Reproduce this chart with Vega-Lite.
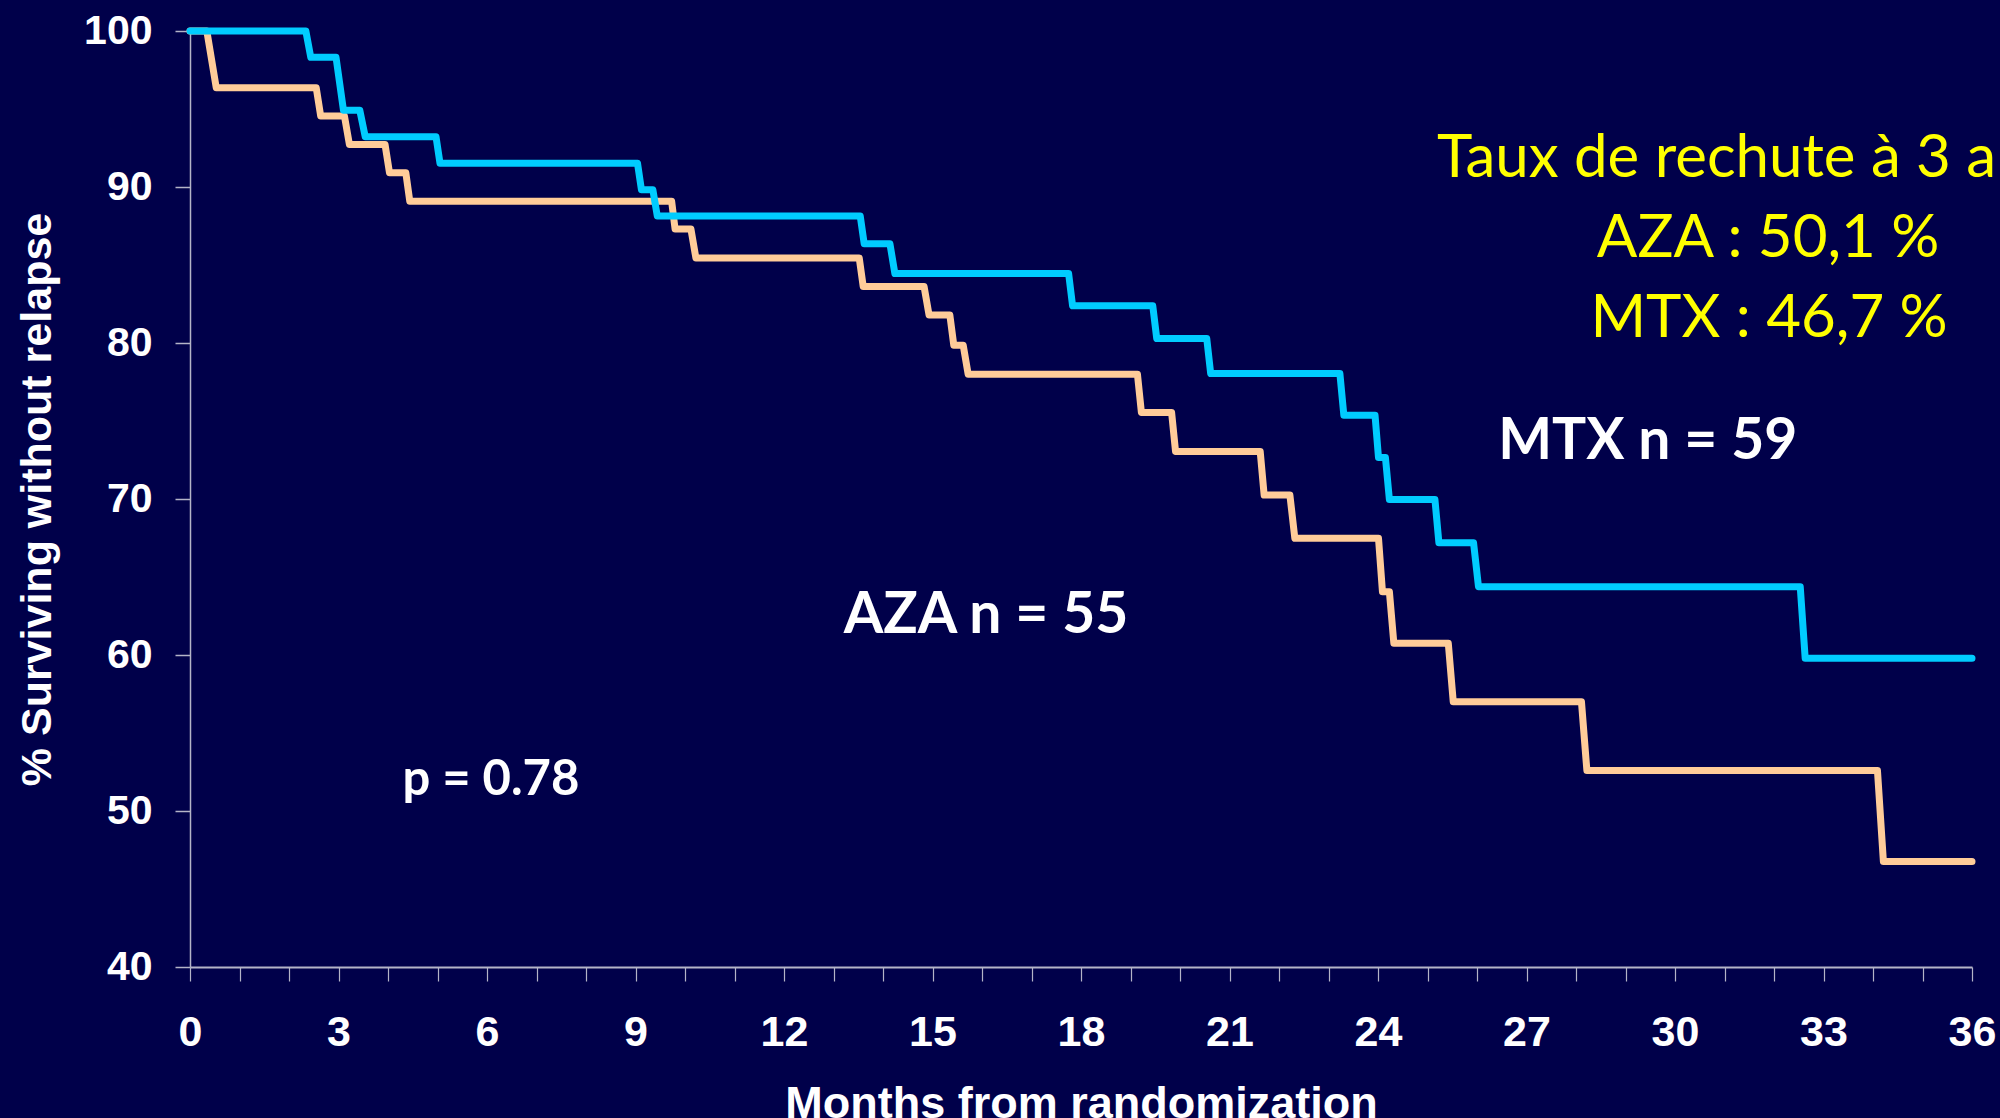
{
  "$schema": "https://vega.github.io/schema/vega-lite/v6.json",
  "autosize": {"type": "none"},
  "width": 1782,
  "height": 936,
  "padding": {"left": 190, "top": 31, "right": 28, "bottom": 151},
  "background": "#00004A",
  "config": {"view": {"stroke": null}},
  "encoding": {
    "x": {
      "field": "month",
      "type": "quantitative",
      "scale": {"domain": [0, 36], "nice": false, "zero": false},
      "axis": {
        "title": "Months from randomization",
        "values": [0,1,2,3,4,5,6,7,8,9,10,11,12,13,14,15,16,17,18,19,20,21,22,23,24,25,26,27,28,29,30,31,32,33,34,35,36],
        "labelExpr": "datum.value % 3 === 0 ? datum.label : ''",
        "labelOverlap": false,
        "labelFlush": false,
        "labelBound": false,
        "grid": false,
        "domainColor": "#B4B4C8",
        "domainWidth": 2,
        "tickColor": "#B4B4C8",
        "tickWidth": 1.2,
        "tickSize": 14,
        "labelFont": "Liberation Sans",
        "labelFontWeight": "bold",
        "labelFontSize": 43,
        "labelColor": "#FFFFFF",
        "labelPadding": 30,
        "titleFont": "Liberation Sans",
        "titleFontWeight": "bold",
        "titleFontSize": 45,
        "titleColor": "#FFFFFF",
        "titleX": 891,
        "titleY": 150,
        "titleAlign": "center",
        "titleBaseline": "alphabetic"
      }
    },
    "y": {
      "field": "pct",
      "type": "quantitative",
      "scale": {"domain": [40, 100], "nice": false, "zero": false},
      "axis": {
        "title": "% Surviving without relapse",
        "values": [40, 50, 60, 70, 80, 90, 100],
        "labelFlush": false,
        "labelOverlap": false,
        "grid": false,
        "domainColor": "#B4B4C8",
        "domainWidth": 1.5,
        "tickColor": "#B4B4C8",
        "tickWidth": 1.5,
        "tickSize": 15,
        "labelFont": "Liberation Sans",
        "labelFontWeight": "bold",
        "labelFontSize": 41,
        "labelColor": "#FFFFFF",
        "labelPadding": 23,
        "titleFont": "Liberation Sans",
        "titleFontWeight": "bold",
        "titleFontSize": 43,
        "titleColor": "#FFFFFF",
        "titleAngle": 270,
        "titleX": -140,
        "titleY": 468,
        "titleAlign": "center",
        "titleBaseline": "alphabetic"
      }
    }
  },
  "layer": [
    {
      "data": {
        "values": [
          {"arm": "AZA", "month": 0, "pct": 100},
          {"arm": "AZA", "month": 0.34, "pct": 100},
          {"arm": "AZA", "month": 0.53, "pct": 96.36},
          {"arm": "AZA", "month": 2.55, "pct": 96.36},
          {"arm": "AZA", "month": 2.64, "pct": 94.55},
          {"arm": "AZA", "month": 3.12, "pct": 94.55},
          {"arm": "AZA", "month": 3.22, "pct": 92.73},
          {"arm": "AZA", "month": 3.94, "pct": 92.73},
          {"arm": "AZA", "month": 4.03, "pct": 90.91},
          {"arm": "AZA", "month": 4.36, "pct": 90.91},
          {"arm": "AZA", "month": 4.44, "pct": 89.09},
          {"arm": "AZA", "month": 9.73, "pct": 89.09},
          {"arm": "AZA", "month": 9.8, "pct": 87.3},
          {"arm": "AZA", "month": 10.12, "pct": 87.3},
          {"arm": "AZA", "month": 10.22, "pct": 85.45},
          {"arm": "AZA", "month": 13.52, "pct": 85.45},
          {"arm": "AZA", "month": 13.6, "pct": 83.62},
          {"arm": "AZA", "month": 14.83, "pct": 83.62},
          {"arm": "AZA", "month": 14.93, "pct": 81.8},
          {"arm": "AZA", "month": 15.35, "pct": 81.8},
          {"arm": "AZA", "month": 15.43, "pct": 79.86},
          {"arm": "AZA", "month": 15.62, "pct": 79.86},
          {"arm": "AZA", "month": 15.72, "pct": 78.0},
          {"arm": "AZA", "month": 19.14, "pct": 78.0},
          {"arm": "AZA", "month": 19.22, "pct": 75.55},
          {"arm": "AZA", "month": 19.83, "pct": 75.55},
          {"arm": "AZA", "month": 19.91, "pct": 73.05},
          {"arm": "AZA", "month": 21.62, "pct": 73.05},
          {"arm": "AZA", "month": 21.7, "pct": 70.25},
          {"arm": "AZA", "month": 22.22, "pct": 70.25},
          {"arm": "AZA", "month": 22.32, "pct": 67.48},
          {"arm": "AZA", "month": 24.01, "pct": 67.48},
          {"arm": "AZA", "month": 24.09, "pct": 64.06},
          {"arm": "AZA", "month": 24.23, "pct": 64.06},
          {"arm": "AZA", "month": 24.32, "pct": 60.75},
          {"arm": "AZA", "month": 25.42, "pct": 60.75},
          {"arm": "AZA", "month": 25.52, "pct": 57.01},
          {"arm": "AZA", "month": 28.11, "pct": 57.01},
          {"arm": "AZA", "month": 28.22, "pct": 52.59},
          {"arm": "AZA", "month": 34.09, "pct": 52.59},
          {"arm": "AZA", "month": 34.21, "pct": 46.76},
          {"arm": "AZA", "month": 36, "pct": 46.76},
          {"arm": "MTX", "month": 0, "pct": 100},
          {"arm": "MTX", "month": 2.34, "pct": 100},
          {"arm": "MTX", "month": 2.44, "pct": 98.31},
          {"arm": "MTX", "month": 2.95, "pct": 98.31},
          {"arm": "MTX", "month": 3.1, "pct": 94.92},
          {"arm": "MTX", "month": 3.43, "pct": 94.92},
          {"arm": "MTX", "month": 3.54, "pct": 93.22},
          {"arm": "MTX", "month": 4.97, "pct": 93.22},
          {"arm": "MTX", "month": 5.05, "pct": 91.53},
          {"arm": "MTX", "month": 9.04, "pct": 91.53},
          {"arm": "MTX", "month": 9.12, "pct": 89.83},
          {"arm": "MTX", "month": 9.35, "pct": 89.83},
          {"arm": "MTX", "month": 9.44, "pct": 88.14},
          {"arm": "MTX", "month": 13.54, "pct": 88.14},
          {"arm": "MTX", "month": 13.62, "pct": 86.36},
          {"arm": "MTX", "month": 14.14, "pct": 86.36},
          {"arm": "MTX", "month": 14.24, "pct": 84.45},
          {"arm": "MTX", "month": 17.75, "pct": 84.45},
          {"arm": "MTX", "month": 17.83, "pct": 82.38},
          {"arm": "MTX", "month": 19.45, "pct": 82.38},
          {"arm": "MTX", "month": 19.53, "pct": 80.29},
          {"arm": "MTX", "month": 20.54, "pct": 80.29},
          {"arm": "MTX", "month": 20.62, "pct": 78.04},
          {"arm": "MTX", "month": 23.23, "pct": 78.04},
          {"arm": "MTX", "month": 23.31, "pct": 75.37},
          {"arm": "MTX", "month": 23.94, "pct": 75.37},
          {"arm": "MTX", "month": 24.01, "pct": 72.66},
          {"arm": "MTX", "month": 24.15, "pct": 72.66},
          {"arm": "MTX", "month": 24.23, "pct": 69.97},
          {"arm": "MTX", "month": 25.15, "pct": 69.97},
          {"arm": "MTX", "month": 25.23, "pct": 67.2},
          {"arm": "MTX", "month": 25.93, "pct": 67.2},
          {"arm": "MTX", "month": 26.03, "pct": 64.38},
          {"arm": "MTX", "month": 32.53, "pct": 64.38},
          {"arm": "MTX", "month": 32.63, "pct": 59.79},
          {"arm": "MTX", "month": 36, "pct": 59.79}
        ]
      },
      "mark": {"type": "line", "strokeWidth": 7, "strokeCap": "round", "strokeJoin": "round", "interpolate": "linear"},
      "encoding": {
        "color": {
          "field": "arm",
          "type": "nominal",
          "scale": {"domain": ["AZA", "MTX"], "range": ["#FFCC99", "#00CCFF"]},
          "legend": null
        },
        "order": {"field": "month", "type": "quantitative"}
      }
    },
    {
      "data": {"values": [{"month": 25.19, "pct": 90.64, "label": "Taux de rechute à 3 ans"}]},
      "mark": {"type": "text", "font": "Lato", "fontSize": 60, "color": "#FFFF00", "align": "left", "baseline": "alphabetic"},
      "encoding": {"text": {"field": "label"}}
    },
    {
      "data": {"values": [
        {"month": 31.88, "pct": 85.52, "label": "AZA : 50,1 %"},
        {"month": 31.9, "pct": 80.39, "label": "MTX : 46,7 %"}
      ]},
      "mark": {"type": "text", "font": "Lato", "fontSize": 60, "color": "#FFFF00", "align": "center", "baseline": "alphabetic"},
      "encoding": {"text": {"field": "label"}}
    },
    {
      "data": {"values": [
        {"month": 29.45, "pct": 72.54, "label": "MTX n = 59"},
        {"month": 16.08, "pct": 61.41, "label": "AZA n = 55"}
      ]},
      "mark": {"type": "text", "font": "Lato", "fontWeight": "bold", "fontSize": 57, "color": "#FFFFFF", "align": "center", "baseline": "alphabetic"},
      "encoding": {"text": {"field": "label"}}
    },
    {
      "data": {"values": [{"month": 6.08, "pct": 51.03, "label": "p = 0.78"}]},
      "mark": {"type": "text", "font": "Lato", "fontWeight": "bold", "fontSize": 49, "color": "#FFFFFF", "align": "center", "baseline": "alphabetic"},
      "encoding": {"text": {"field": "label"}}
    }
  ]
}
